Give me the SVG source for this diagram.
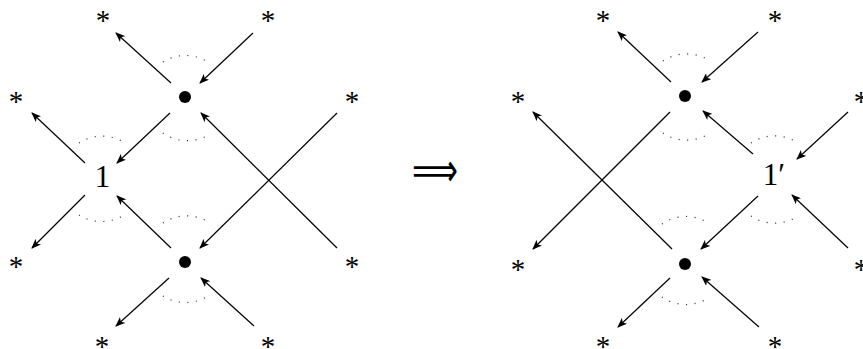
<svg xmlns="http://www.w3.org/2000/svg" width="863" height="349" viewBox="0 0 863 349">
  <defs>
    <marker id="ah" viewBox="0 0 10 8" refX="9" refY="4" markerWidth="10" markerHeight="8" markerUnits="userSpaceOnUse" orient="auto">
      <path d="M0,0 L10,4 L0,8 L2.5,4 Z" fill="#000"/>
    </marker>
  </defs>
  <style>
    .edge { stroke: #000; stroke-width: 1.2; fill: none; marker-end: url(#ah); }
    .dots { stroke: #222; stroke-width: 1.2; fill: none; stroke-dasharray: 1 7.5; }
    .star { font-family: "Liberation Serif", "Times New Roman", serif; font-size: 29px; text-anchor: middle; fill: #000; }
    .lbl { font-family: "Liberation Serif", "Times New Roman", serif; font-size: 31px; text-anchor: middle; fill: #000; }
    .dot { fill: #000; }
  </style>
  <rect width="863" height="349" fill="#fff"/>

  <!-- left configuration -->
  <g id="left">
    <g id="L-vtop"><circle class="dot" cx="185" cy="97" r="6"/></g>
    <g id="L-vbot"><circle class="dot" cx="185" cy="262" r="6"/></g>
    <g id="L-one"><text class="lbl" x="102.5" y="187">1</text></g>
    <g id="L-s1"><text class="star" x="103" y="30">*</text></g>
    <g id="L-s2"><text class="star" x="268" y="30">*</text></g>
    <g id="L-s3"><text class="star" x="16" y="111">*</text></g>
    <g id="L-s4"><text class="star" x="352" y="111">*</text></g>
    <g id="L-s5"><text class="star" x="16" y="276">*</text></g>
    <g id="L-s6"><text class="star" x="352" y="276">*</text></g>
    <g id="L-s7"><text class="star" x="102" y="356">*</text></g>
    <g id="L-s8"><text class="star" x="268" y="356">*</text></g>
  </g>

  <!-- right configuration -->
  <g id="right">
    <g id="R-vtop"><circle class="dot" cx="685" cy="96" r="6"/></g>
    <g id="R-vbot"><circle class="dot" cx="685" cy="264" r="6"/></g>
    <g id="R-one"><text class="lbl" x="774" y="185">1′</text></g>
    <g id="R-s1"><text class="star" x="603" y="30">*</text></g>
    <g id="R-s2"><text class="star" x="775" y="30">*</text></g>
    <g id="R-s3"><text class="star" x="518" y="111">*</text></g>
    <g id="R-s4"><text class="star" x="861" y="111">*</text></g>
    <g id="R-s5"><text class="star" x="518" y="279">*</text></g>
    <g id="R-s6"><text class="star" x="861" y="279">*</text></g>
    <g id="R-s7"><text class="star" x="603" y="356">*</text></g>
    <g id="R-s8"><text class="star" x="775" y="356">*</text></g>
  </g>

  <!-- implication -->
  <g id="implies">
    <text x="412" y="186" font-family="DejaVu Sans, sans-serif" font-size="46" textLength="46" lengthAdjust="spacingAndGlyphs">⟹</text>
  </g>

  <!-- connectors -->
  <g id="edges">
    <line class="edge" x1="171" y1="83" x2="116" y2="33"/>
    <line class="edge" x1="253" y1="33" x2="200" y2="83"/>
    <line class="edge" x1="170" y1="113" x2="117" y2="163"/>
    <line class="edge" x1="337" y1="113" x2="200" y2="248"/>
    <line class="edge" x1="337" y1="248" x2="201" y2="113"/>
    <line class="edge" x1="85" y1="163" x2="32" y2="113"/>
    <line class="edge" x1="85" y1="195" x2="32" y2="248"/>
    <line class="edge" x1="171" y1="248" x2="117" y2="196"/>
    <line class="edge" x1="169" y1="278" x2="116" y2="326"/>
    <line class="edge" x1="254" y1="326" x2="201" y2="278"/>

    <line class="edge" x1="671" y1="82" x2="618" y2="32"/>
    <line class="edge" x1="758" y1="32" x2="702" y2="82"/>
    <line class="edge" x1="670" y1="112" x2="533" y2="249"/>
    <line class="edge" x1="672" y1="249" x2="533" y2="112"/>
    <line class="edge" x1="753" y1="154" x2="703" y2="111"/>
    <line class="edge" x1="848" y1="112" x2="797" y2="159"/>
    <line class="edge" x1="758" y1="196" x2="701" y2="249"/>
    <line class="edge" x1="848" y1="248" x2="792" y2="195"/>
    <line class="edge" x1="670" y1="278" x2="618" y2="327"/>
    <line class="edge" x1="759" y1="327" x2="702" y2="277"/>
  </g>

  <!-- dotted angle marks -->
  <g id="angles">
    <path class="dots" d="M163,62 A42,42 0 0 1 208,62"/>
    <path class="dots" d="M163,133 A42,42 0 0 0 210,134"/>
    <path class="dots" d="M79,143 A42,42 0 0 1 125,143"/>
    <path class="dots" d="M79,215 A42,42 0 0 0 124,215"/>
    <path class="dots" d="M163,223 A42,42 0 0 1 210,223"/>
    <path class="dots" d="M163,296 A42,42 0 0 0 208,296"/>

    <path class="dots" d="M663,61 A42,42 0 0 1 710,61"/>
    <path class="dots" d="M663,133 A42,42 0 0 0 710,133"/>
    <path class="dots" d="M751,143 A42,42 0 0 1 798,143"/>
    <path class="dots" d="M751,216 A42,42 0 0 0 798,216"/>
    <path class="dots" d="M662,224 A42,42 0 0 1 710,224"/>
    <path class="dots" d="M662,297 A42,42 0 0 0 710,297"/>
  </g>
</svg>
